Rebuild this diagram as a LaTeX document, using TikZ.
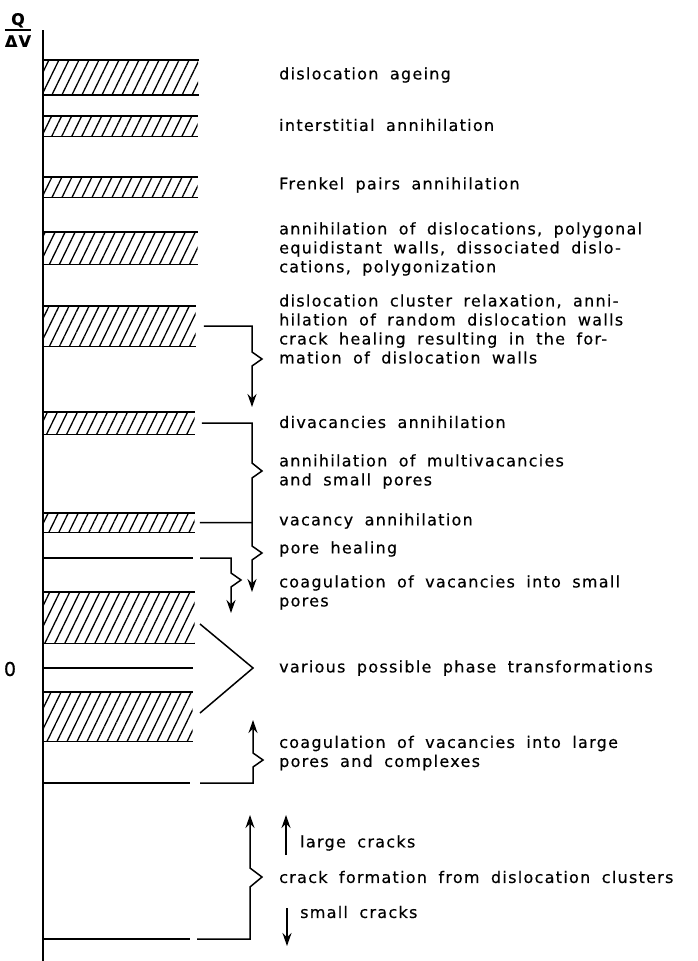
\documentclass[tikz,border=0pt]{standalone}
\usepackage{fontspec}
\newfontfamily\lettering[LetterSpace=8,WordSpace=1.8,FakeBold=0.4]{DejaVu Sans}
\usetikzlibrary{arrows.meta,patterns.meta}
\tikzset{
  hatchbar/.style={anchor=north west, inner sep=0, minimum width=155,
    pattern={Lines[angle=64,distance=9pt,line width=1.3pt]}},
  lvl/.style={line width=1.8pt},
  brk/.style={line width=1.5pt},
  upto/.style={-{Stealth[length=13pt,width=9pt]}},
  txt/.style={anchor=west, align=left, inner sep=0,
    font=\lettering\fontsize{16}{19}\selectfont},
}
\begin{document}
\begin{tikzpicture}[x=1pt,y=-1pt]
\useasboundingbox (0,0) rectangle (698,961);
% axis
\coordinate (top) at (42.5,30);
\coordinate (bottom) at (42.5,961);
\draw[line width=2pt] (top) -- (bottom);
\node[inner sep=0, align=center, font=\lettering\bfseries\fontsize{16}{22}\selectfont] (qdv) at (18,30) {Q\\ΔV};
\draw[line width=1.3pt] (qdv.west |- 0,30) -- (qdv.east |- 0,30);
\node[inner sep=0, font=\lettering\fontsize{19}{19}\selectfont] (zero) at (10,669) {0};

% hatched bands
\node[hatchbar, minimum height=34] (ageing) at (42.5,60) {};
\node[hatchbar, minimum height=20] (inter) at (42.5,116) {};
\node[hatchbar, minimum height=20] (frenkel) at (42.5,177) {};
\node[hatchbar, minimum height=32] (walls) at (42.5,232) {};
\node[hatchbar, minimum height=40, minimum width=153] (cluster) at (42.5,306) {};
\node[hatchbar, minimum height=22, minimum width=152] (divac) at (42.5,412) {};
\node[hatchbar, minimum height=19, minimum width=152] (vacancy) at (42.5,513) {};
\node[hatchbar, minimum height=51, minimum width=152] (phaseup) at (42.5,592) {};
\node[hatchbar, minimum height=49, minimum width=150] (phaselow) at (42.5,692) {};
\foreach \b in {ageing,inter,frenkel,walls,cluster,divac,vacancy,phaseup,phaselow}
  \draw[lvl] (\b.north west) -- (\b.north east) (\b.south west) -- (\b.south east);

% plain levels
\coordinate (pore) at (42.5,558);
\coordinate (zeroline) at (42.5,668);
\coordinate (large) at (42.5,783);
\coordinate (crack) at (42.5,939);
\draw[lvl] (pore) -- (193,558);
\draw[lvl] (zeroline) -- (193,668);
\draw[lvl] (large) -- (190,783);
\draw[lvl] (crack) -- (190,939);

% texts
\node[txt] (t1) at (279,75) {dislocation ageing};
\node[txt] (t2) at (279,125) {interstitial annihilation};
\node[txt] (t3) at (279,185) {Frenkel pairs annihilation};
\node[txt] (t4) at (279,249) {annihilation of dislocations, polygonal\\equidistant walls, dissociated dislo-\\cations, polygonization};
\node[txt] (t5) at (279,329) {dislocation cluster relaxation, anni-\\hilation of random dislocation walls\\crack healing resulting in the for-\\mation of dislocation walls};
\node[txt] (t6) at (279,422) {divacancies annihilation};
\node[txt] (t7) at (279,471.5) {annihilation of multivacancies\\and small pores};
\node[txt] (t8) at (279,521) {vacancy annihilation};
\node[txt] (t9) at (279,549) {pore healing};
\node[txt] (t10) at (279,592.5) {coagulation of vacancies into small\\pores};
\node[txt] (t11) at (279,668) {various possible phase transformations};
\node[txt] (t12) at (279,753) {coagulation of vacancies into large\\pores and complexes};
\node[txt] (t13) at (300,843) {large cracks};
\node[txt] (t14) at (279,877) {crack formation from dislocation clusters};
\node[txt] (t15) at (300,912) {small cracks};

% brackets
\coordinate (tipA) at (252,407);
\coordinate (tipB) at (252,592);
\coordinate (tipC) at (231,613);
\coordinate (chev) at (253,668);
\coordinate (tipE) at (253,720);
\coordinate (tipF) at (250,815);
\coordinate (tipG) at (286,815);
\coordinate (tipH) at (287,946);
\draw[brk, upto] ([xshift=8]cluster.east) -- (252,326) -- (252,352) -- ++(10,7) -- ++(-10,7) -- (tipA);
\draw[brk, upto] ([xshift=7]divac.east) -- (252,423) -- (252,463) -- ++(10,8) -- ++(-10,7) -- (252,546) -- ++(10,7) -- ++(-10,7) -- (tipB);
\draw[brk] ([xshift=5]vacancy.east) -- (252,522.5);
\draw[brk, upto] (200,558) -- (231,558) -- (231,573) -- ++(10,7) -- ++(-10,7) -- (tipC);
\draw[brk] (200,624) -- (chev) -- (200,713);
\draw[brk, upto] (200,783) -- (253,783) -- (253,767) -- ++(10,-7) -- ++(-10,-7) -- (tipE);
\draw[brk, upto] (197,939) -- (250,939) -- (250,887) -- ++(12,-10) -- ++(-12,-9) -- (tipF);
\draw[brk, upto] (286,855) -- (tipG);
\draw[brk, upto] (287,908) -- (tipH);
\end{tikzpicture}
\end{document}
